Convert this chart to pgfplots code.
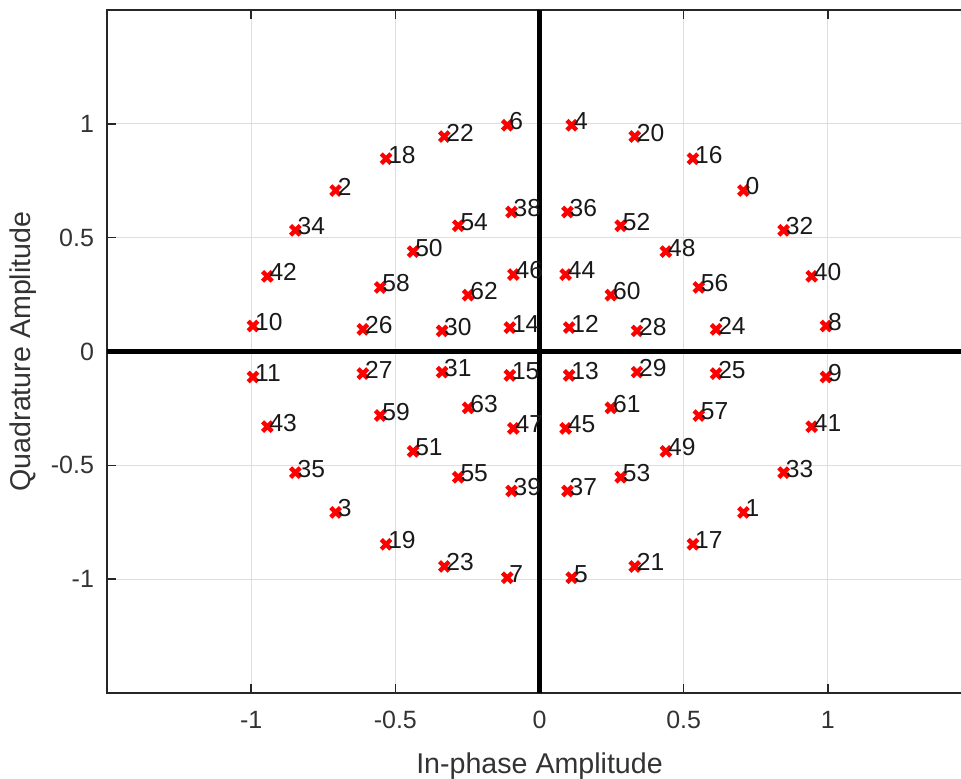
\documentclass[border=0pt]{standalone}
\usepackage{fontspec}
\setmainfont{Liberation Sans}
\usepackage{pgfplots}
\pgfplotsset{compat=1.18}
\usepackage{pgfplotstable}

\pgfplotstableread{
x y lab
0.9937 0.1120 8
0.9439 0.3303 40
0.8467 0.5320 32
0.7071 0.7071 0
0.5320 0.8467 16
0.3303 0.9439 20
0.1120 0.9937 4
-0.1120 0.9937 6
-0.3303 0.9439 22
-0.5320 0.8467 18
-0.7071 0.7071 2
-0.8467 0.5320 34
-0.9439 0.3303 42
-0.9937 0.1120 10
-0.9937 -0.1120 11
-0.9439 -0.3303 43
-0.8467 -0.5320 35
-0.7071 -0.7071 3
-0.5320 -0.8467 19
-0.3303 -0.9439 23
-0.1120 -0.9937 7
0.1120 -0.9937 5
0.3303 -0.9439 21
0.5320 -0.8467 17
0.7071 -0.7071 1
0.8467 -0.5320 33
0.9439 -0.3303 41
0.9937 -0.1120 9
0.6124 0.0970 24
0.5524 0.2815 56
0.4384 0.4384 48
0.2815 0.5524 52
0.0970 0.6124 36
-0.0970 0.6124 38
-0.2815 0.5524 54
-0.4384 0.4384 50
-0.5524 0.2815 58
-0.6124 0.0970 26
-0.6124 -0.0970 27
-0.5524 -0.2815 59
-0.4384 -0.4384 51
-0.2815 -0.5524 55
-0.0970 -0.6124 39
0.0970 -0.6124 37
0.2815 -0.5524 53
0.4384 -0.4384 49
0.5524 -0.2815 57
0.6124 -0.0970 25
0.3381 0.0906 28
0.2475 0.2475 60
0.0906 0.3381 44
-0.0906 0.3381 46
-0.2475 0.2475 62
-0.3381 0.0906 30
-0.3381 -0.0906 31
-0.2475 -0.2475 63
-0.0906 -0.3381 47
0.0906 -0.3381 45
0.2475 -0.2475 61
0.3381 -0.0906 29
0.1030 0.1050 12
-0.1030 0.1050 14
-0.1030 -0.1050 15
0.1030 -0.1050 13
}\constdata

\begin{document}
\begin{tikzpicture}
\begin{axis}[
  name=ax,
  scale only axis,
  width=432.5pt, height=341.5pt,
  xmin=-1.5, xmax=1.5, ymin=-1.5, ymax=1.5,
  xtick={-1,-0.5,0,0.5,1},
  ytick={-1,-0.5,0,0.5,1},
  xticklabels={-1,-0.5,0,0.5,1},
  yticklabels={-1,-0.5,0,0.5,1},
  tick align=inside,
  major tick length=4.5pt,
  every tick/.style={black!85, line width=0.8pt},
  axis line style={black!85, line width=0.8pt},
  grid=major,
  major grid style={black!13, line width=0.6pt},
  ticklabel style={font=\fontsize{12.5}{15}\selectfont, text=black!80},
  /pgf/number format/assume math mode=true,
  xticklabel style={yshift=-5.5pt},
  yticklabel style={xshift=-3pt},
  xlabel={In-phase Amplitude},
  ylabel={Quadrature Amplitude},
  label style={font=\fontsize{14.3}{17}\selectfont, text=black!80},
  xlabel style={at={(axis description cs:0.5,0)}, anchor=center, yshift=-36.5pt},
  ylabel style={at={(axis description cs:0,0.5)}, anchor=center, yshift=42pt},
  clip=false,
]
\draw[black, line width=2.2pt] (axis cs:0,-1.5) -- (axis cs:0,1.5);
\draw[black, line width=2.2pt] (axis cs:-1.5,0) -- (axis cs:1.5,0);
\addplot[
  only marks, red, mark=x, mark size=3.4pt,
  mark options={line width=2.2pt, red},
  nodes near coords,
  point meta=explicit symbolic,
  every node near coord/.append style={anchor=west, inner sep=0pt, yshift=2pt,
     font=\fontsize{12.3}{14}\selectfont, text=black!90},
] table[x=x, y=y, meta=lab] {\constdata};
\end{axis}
\pgfresetboundingbox
\path[use as bounding box] ([xshift=-53.5pt,yshift=-43pt]ax.south west) rectangle ([xshift=427pt,yshift=5pt]ax.north west);
\end{tikzpicture}
\end{document}
